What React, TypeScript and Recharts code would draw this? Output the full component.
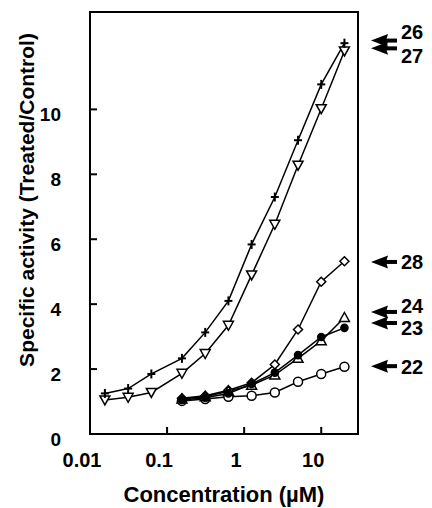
import React from "react";
import { LineChart, Line, XAxis, YAxis, ReferenceArea } from "recharts";

// concentrations (uM)
const concWide = [0.0156, 0.03125, 0.0625, 0.156, 0.3125, 0.625, 1.25, 2.5, 5, 10, 20];
const concNarrow = [0.156, 0.3125, 0.625, 1.25, 2.5, 5, 10, 20];

// specific activity (treated / control)
const s26 = [1.25, 1.4, 1.85, 2.33, 3.13, 4.1, 5.84, 7.3, 9.05, 10.77, 12.04];
const s27 = [1.05, 1.13, 1.28, 1.87, 2.48, 3.35, 4.9, 6.46, 8.28, 10.02, 11.8];
const s28 = [1.1, 1.18, 1.35, 1.58, 2.14, 3.22, 4.69, 5.32];
const s24 = [1.08, 1.15, 1.32, 1.5, 1.82, 2.33, 2.87, 3.59];
const s23 = [1.05, 1.12, 1.25, 1.54, 1.89, 2.43, 2.99, 3.27];
const s22 = [1.02, 1.08, 1.15, 1.18, 1.28, 1.61, 1.85, 2.07];

const xTicks = [0.01, 0.1, 1, 10];
const yTicks = [0, 2, 4, 6, 8, 10];

// right-hand labels: arrow value, label value
const labels = ["26", "27", "28", "24", "23", "22"];
const arrowAt = [12.12, 11.88, 5.3, 3.76, 3.42, 2.09];
const labelAt = [12.4, 11.66, 5.3, 3.95, 3.28, 2.09];

const W = 432;
const H = 508;
const M = { top: 12, right: 74, left: 0, bottom: 0 };
const Y_AXIS_W = 90;
const X_AXIS_H = 74;
const Y_MAX = 13;
const plotTop = M.top;
const plotH = H - M.top - X_AXIS_H;
const yPix = (v: number) => plotTop + (1 - v / Y_MAX) * plotH;

const FONT = "'Liberation Sans', Arial, sans-serif";

const toRows = (xs: number[], ys: number[]) => xs.map((x, i) => ({ x, y: ys[i] }));

type Shape = "plus" | "tri-down" | "diamond" | "tri-up" | "dot" | "circle";

function Marker({ cx, cy, shape }: { cx: number; cy: number; shape: Shape }) {
  if (cx == null || cy == null) return null;
  const sw = 1.5;
  switch (shape) {
    case "plus":
      return (
        <g stroke="#000" strokeWidth={2}>
          <line x1={cx - 4} x2={cx + 4} y1={cy} y2={cy} />
          <line x1={cx} x2={cx} y1={cy - 4.5} y2={cy + 4.5} />
        </g>
      );
    case "tri-down":
      return (
        <polygon
          points={`${cx - 5},${cy - 4} ${cx + 5},${cy - 4} ${cx},${cy + 5}`}
          fill="#fff"
          stroke="#000"
          strokeWidth={sw}
        />
      );
    case "tri-up":
      return (
        <polygon
          points={`${cx - 5},${cy + 4} ${cx + 5},${cy + 4} ${cx},${cy - 5}`}
          fill="#fff"
          stroke="#000"
          strokeWidth={sw}
        />
      );
    case "diamond":
      return (
        <polygon
          points={`${cx},${cy - 4.5} ${cx + 4.5},${cy} ${cx},${cy + 4.5} ${cx - 4.5},${cy}`}
          fill="#fff"
          stroke="#000"
          strokeWidth={sw}
        />
      );
    case "dot":
      return <circle cx={cx} cy={cy} r={4.3} fill="#000" />;
    default:
      return <circle cx={cx} cy={cy} r={4.5} fill="#fff" stroke="#000" strokeWidth={sw} />;
  }
}

const series: { name: string; xs: number[]; ys: number[]; shape: Shape }[] = [
  { name: "22", xs: concNarrow, ys: s22, shape: "circle" },
  { name: "28", xs: concNarrow, ys: s28, shape: "diamond" },
  { name: "24", xs: concNarrow, ys: s24, shape: "tri-up" },
  { name: "23", xs: concNarrow, ys: s23, shape: "dot" },
  { name: "27", xs: concWide, ys: s27, shape: "tri-down" },
  { name: "26", xs: concWide, ys: s26, shape: "plus" },
];

const XTick = (props: any) => {
  const { x, y, payload } = props;
  return (
    <g>
      {payload.value !== 0.01 && (
        <line x1={x} x2={x} y1={y} y2={y - 7} stroke="#000" strokeWidth={2} />
      )}
      <text
        x={x - 8}
        y={y + 33}
        textAnchor="middle"
        fontFamily={FONT}
        fontWeight="bold"
        fontSize={20}
        fill="#000"
      >
        {payload.value}
      </text>
    </g>
  );
};

const YTick = (props: any) => {
  const { x, y, payload } = props;
  return (
    <g>
      {payload.value !== 0 && (
        <line x1={x} x2={x + 7} y1={y} y2={y} stroke="#000" strokeWidth={2} />
      )}
      <text
        x={x - 29}
        y={y + 12}
        textAnchor="end"
        fontFamily={FONT}
        fontWeight="bold"
        fontSize={19}
        fill="#000"
      >
        {payload.value}
      </text>
    </g>
  );
};

function Arrow({ y }: { y: number }) {
  return (
    <g fill="#000">
      <polygon points={`371,${y} 388,${y - 6.5} 386,${y} 388,${y + 6.5}`} />
      <rect x={385} y={y - 2} width={12} height={4} />
    </g>
  );
}

export default function App() {
  return (
    <div style={{ position: "absolute", left: 0, top: 0, width: W, height: H, background: "#fff" }}>
      <LineChart width={W} height={H} margin={M}>
        <XAxis
          dataKey="x"
          type="number"
          scale="log"
          domain={[0.01, 30]}
          allowDataOverflow
          ticks={xTicks}
          tick={<XTick />}
          tickLine={false}
          axisLine={false}
          tickSize={0}
          tickMargin={0}
          height={X_AXIS_H}
          interval={0}
        />
        <YAxis
          type="number"
          domain={[0, Y_MAX]}
          ticks={yTicks}
          tick={<YTick />}
          tickLine={false}
          axisLine={false}
          tickSize={0}
          tickMargin={0}
          width={Y_AXIS_W}
          interval={0}
        />
        <ReferenceArea
          x1={0.01}
          x2={30}
          y1={0}
          y2={Y_MAX}
          fill="none"
          stroke="#000"
          strokeWidth={2}
          ifOverflow="visible"
        />
        {series.map((s) => (
          <Line
            key={s.name}
            data={toRows(s.xs, s.ys)}
            dataKey="y"
            name={s.name}
            stroke="#000"
            strokeWidth={1.5}
            isAnimationActive={false}
            activeDot={false}
            dot={(p: any) => <Marker key={`${s.name}-${p.index}`} cx={p.cx} cy={p.cy} shape={s.shape} />}
          />
        ))}
      </LineChart>
      <svg
        width={W}
        height={H}
        style={{ position: "absolute", left: 0, top: 0, pointerEvents: "none" }}
      >
        <text
          x={224}
          y={502}
          textAnchor="middle"
          fontFamily={FONT}
          fontWeight="bold"
          fontSize={22}
          fill="#000"
        >
          Concentration (µM)
        </text>
        <text
          transform="translate(34,200) rotate(-90)"
          textAnchor="middle"
          fontFamily={FONT}
          fontWeight="bold"
          fontSize={21}
          fill="#000"
        >
          Specific activity (Treated/Control)
        </text>
        {labels.map((l, i) => (
          <g key={l}>
            <Arrow y={yPix(arrowAt[i])} />
            <text
              x={401}
              y={yPix(labelAt[i]) + 7.5}
              fontFamily={FONT}
              fontWeight="bold"
              fontSize={20}
              fill="#000"
            >
              {l}
            </text>
          </g>
        ))}
      </svg>
    </div>
  );
}
